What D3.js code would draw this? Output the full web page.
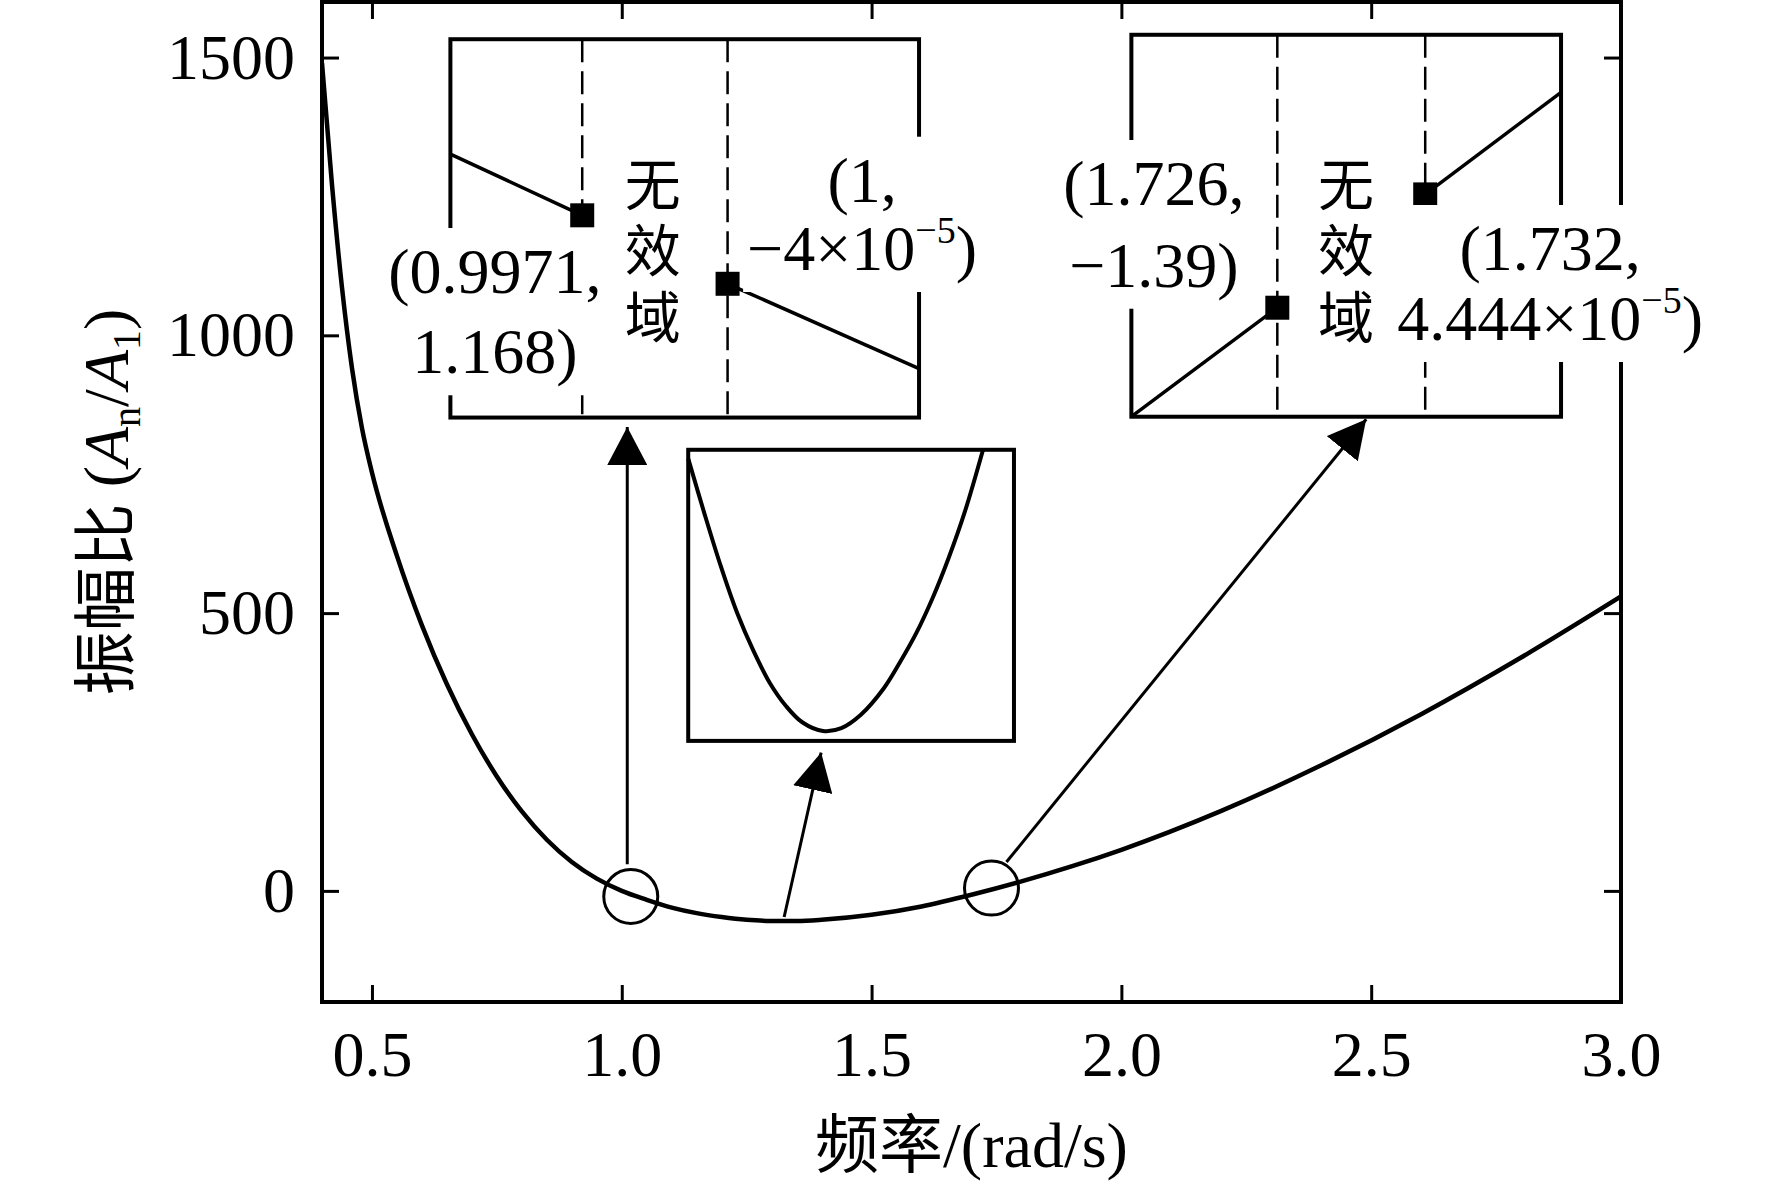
<!DOCTYPE html>
<html>
<head>
<meta charset="utf-8">
<script src="https://cdn.jsdelivr.net/npm/d3@7"></script>
<style>
body { margin: 0; background: #fff; }
text { font-family: "Liberation Serif", "Times New Roman", "Noto Sans CJK SC", serif; fill: #000; }
.cjk { font-family: "Noto Sans CJK SC", "Noto Sans CJK JP", sans-serif; }
</style>
</head>
<body>
<div id="chart"></div>
<script>
// main curve
var freq = [0.40, 0.42, 0.44, 0.46, 0.48, 0.50, 0.55, 0.60, 0.65, 0.70, 0.75, 0.80, 0.85, 0.90, 0.95,
	1.00, 1.05, 1.10, 1.15, 1.20, 1.25, 1.30, 1.35, 1.40, 1.50, 1.60, 1.70, 1.80, 1.90, 2.00,
	2.20, 2.40, 2.60, 2.80, 3.00];
var ampRatio = [1490, 1271, 1086, 941, 833, 753, 603, 478, 372, 282, 206, 143, 92, 52, 22,
	0, -16, -30, -40, -47, -52, -54, -54, -52, -43, -28, -7, 17, 44, 74,
	144, 226, 318, 420, 530];

var xTicks = [0.5, 1.0, 1.5, 2.0, 2.5, 3.0];
var yTicks = [0, 500, 1000, 1500];
var xTickLabels = ['0.5', '1.0', '1.5', '2.0', '2.5', '3.0'];
var yTickLabels = ['0', '500', '1000', '1500'];

// inset 1: zoom on the first zero crossing
var inset1Freq = [0.99447, 0.9971, 1.0, 1.00382];
var inset1Amp = [2.213, 1.168, -0.00004, -1.447];
// inset 2: zoom on the second zero crossing
var inset2Freq = [1.72008, 1.726, 1.732, 1.73751];
var inset2Amp = [-2.727, -1.39, 0.00004444, 1.252];
// inset 3: zoom on the minimum
var inset3Freq = [1.100, 1.1225, 1.145, 1.1675, 1.190, 1.2125, 1.235, 1.2575, 1.2863,
	1.3115, 1.3385, 1.370, 1.3925, 1.415, 1.4375, 1.460, 1.4825, 1.50725];
var inset3Amp = [-30.75, -35.5, -40.0, -44.0, -47.25, -50.0, -52.0, -53.4, -54.15,
	-53.9, -52.75, -50.5, -48.25, -45.75, -42.75, -39.25, -35.25, -30.0];

// circled spots on the main curve
var circleFreq = [1.018, 1.74];
var circleAmp = [-10, 5];

var W = 1772, H = 1186;
var x = d3.scaleLinear().domain([0.4, 3.0]).range([322, 1621]);
var y = d3.scaleLinear().domain([-200, 1600]).range([1002, 2]);

var svg = d3.select('#chart').append('svg')
	.attr('width', W)
	.attr('height', H)
	.style('background', '#fff');

svg.append('defs').append('clipPath').attr('id', 'plotClip')
	.append('rect')
	.attr('x', x(0.4)).attr('y', y(1600))
	.attr('width', x(3.0) - x(0.4)).attr('height', y(-200) - y(1600));

var arrowHead = svg.select('defs').append('marker')
	.attr('id', 'arrow')
	.attr('markerUnits', 'userSpaceOnUse')
	.attr('markerWidth', 40)
	.attr('markerHeight', 40)
	.attr('refX', 38)
	.attr('refY', 20)
	.attr('orient', 'auto');
arrowHead.append('path').attr('d', 'M0,0 L38,20 L0,40 Z').attr('fill', '#000');

// axes: ticks point inwards, mirrored on top and right
function styleAxis(g) {
	g.select('.domain').remove();
	g.selectAll('line').attr('stroke', '#000').attr('stroke-width', 3);
	g.selectAll('text').attr('font-family', '"Liberation Serif", "Times New Roman", serif').attr('font-size', 64).attr('fill', '#000');
}

svg.append('g').attr('transform', 'translate(' + x(0.4) + ',0)')
	.call(d3.axisLeft(y).tickValues(yTicks).tickSizeInner(-17).tickSizeOuter(0).tickPadding(27)
		.tickFormat(function(d, i) { return yTickLabels[i]; }))
	.call(styleAxis);
svg.append('g').attr('transform', 'translate(' + x(3.0) + ',0)')
	.call(d3.axisRight(y).tickValues(yTicks).tickSizeInner(-17).tickSizeOuter(0).tickFormat(''))
	.call(styleAxis);
svg.append('g').attr('transform', 'translate(0,' + y(-200) + ')')
	.call(d3.axisBottom(x).tickValues(xTicks).tickSizeInner(-17).tickSizeOuter(0).tickPadding(29)
		.tickFormat(function(d, i) { return xTickLabels[i]; }))
	.call(styleAxis);
svg.append('g').attr('transform', 'translate(0,' + y(1600) + ')')
	.call(d3.axisTop(x).tickValues(xTicks).tickSizeInner(-17).tickSizeOuter(0).tickFormat(''))
	.call(styleAxis);

svg.append('rect')
	.attr('x', x(0.4)).attr('y', y(1600))
	.attr('width', x(3.0) - x(0.4)).attr('height', y(-200) - y(1600))
	.attr('fill', 'none').attr('stroke', '#000').attr('stroke-width', 4);

// axis titles
svg.append('text')
	.attr('x', (x(0.4) + x(3.0)) / 2).attr('y', 1167)
	.attr('text-anchor', 'middle').attr('font-size', 64)
	.text('频率/(rad/s)');

var yTitle = svg.append('text')
	.attr('transform', 'translate(128,' + (y(-200) + y(1600)) / 2 + ') rotate(-90)')
	.attr('text-anchor', 'middle').attr('font-size', 64);
yTitle.append('tspan').text('振幅比 (');
yTitle.append('tspan').attr('font-style', 'italic').text('A');
yTitle.append('tspan').attr('font-size', 40).attr('dy', 12).text('n');
yTitle.append('tspan').attr('dy', -12).text('/');
yTitle.append('tspan').attr('font-style', 'italic').text('A');
yTitle.append('tspan').attr('font-size', 40).attr('dy', 12).text('1');
yTitle.append('tspan').attr('dy', -12).text(')');

// main curve
var mainData = freq.map(function(f, i) { return [f, ampRatio[i]]; });
svg.append('path')
	.datum(mainData)
	.attr('clip-path', 'url(#plotClip)')
	.attr('fill', 'none').attr('stroke', '#000').attr('stroke-width', 4.5)
	.attr('d', d3.line().x(function(d) { return x(d[0]); }).y(function(d) { return y(d[1]); }).curve(d3.curveMonotoneX));

// circles around zero crossings
svg.selectAll('.spot').data(circleFreq).enter().append('circle')
	.attr('class', 'spot')
	.attr('cx', function(d) { return x(d); })
	.attr('cy', function(d, i) { return y(circleAmp[i]); })
	.attr('r', 27)
	.attr('fill', 'none').attr('stroke', '#000').attr('stroke-width', 3);

// arrows from the curve up to the insets (main chart units)
var arrows = [
	[[1.011, 48], [1.011, 835]],
	[[1.325, -47], [1.399, 249]],
	[[1.770, 52], [2.490, 849]]
];
svg.selectAll('.arrow').data(arrows).enter().append('line')
	.attr('class', 'arrow')
	.attr('x1', function(d) { return x(d[0][0]); })
	.attr('y1', function(d) { return y(d[0][1]); })
	.attr('x2', function(d) { return x(d[1][0]); })
	.attr('y2', function(d) { return y(d[1][1]); })
	.attr('stroke', '#000').attr('stroke-width', 3)
	.attr('marker-end', 'url(#arrow)');

// inset boxes, placed in main chart units
function drawInset(place, fx, fy, opts) {
	var ix = d3.scaleLinear().domain(opts.xDomain).range([x(place[0]), x(place[1])]);
	var iy = d3.scaleLinear().domain(opts.yDomain).range([y(place[2]), y(place[3])]);
	var g = svg.append('g');
	g.append('rect')
		.attr('x', x(place[0])).attr('y', y(place[3]))
		.attr('width', x(place[1]) - x(place[0])).attr('height', y(place[2]) - y(place[3]))
		.attr('fill', '#fff').attr('stroke', '#000').attr('stroke-width', 4);
	var line = d3.line().x(function(d) { return ix(d[0]); }).y(function(d) { return iy(d[1]); });
	if (opts.dashed) {
		g.selectAll('.dash').data(opts.dashed).enter().append('line')
			.attr('x1', function(d) { return ix(d); }).attr('x2', function(d) { return ix(d); })
			.attr('y1', y(place[3])).attr('y2', y(place[2]))
			.attr('stroke', '#000').attr('stroke-width', 2.5).attr('stroke-dasharray', '23,9');
	}
	if (opts.curve) {
		var pts = fx.map(function(f, i) { return [f, fy[i]]; });
		g.append('path').datum(pts)
			.attr('fill', 'none').attr('stroke', '#000').attr('stroke-width', 4)
			.attr('d', line.curve(d3.curveCatmullRom.alpha(0.5)));
	} else {
		// two pieces, the invalid domain between them is left out
		var left = [[fx[0], fy[0]], [fx[1], fy[1]]];
		var right = [[fx[2], fy[2]], [fx[3], fy[3]]];
		g.selectAll('.seg').data([left, right]).enter().append('path')
			.attr('fill', 'none').attr('stroke', '#000').attr('stroke-width', 3.5)
			.attr('d', line);
		g.selectAll('.pt').data([[fx[1], fy[1]], [fx[2], fy[2]]]).enter().append('rect')
			.attr('x', function(d) { return ix(d[0]) - 12; })
			.attr('y', function(d) { return iy(d[1]) - 12; })
			.attr('width', 24).attr('height', 24)
			.attr('fill', '#000');
	}
	return g;
}

drawInset([0.657, 1.595, 852, 1533], inset1Freq, inset1Amp,
	{xDomain: [0.99447, 1.00382], yDomain: [-2.282, 4.172], dashed: [0.9971, 1.0]});
drawInset([2.02, 2.88, 853.5, 1541], inset2Freq, inset2Amp,
	{xDomain: [1.72008, 1.73751], yDomain: [-2.727, 1.958], dashed: [1.726, 1.732]});
drawInset([1.133, 1.785, 270, 794], inset3Freq, inset3Amp,
	{xDomain: [1.10, 1.55], yDomain: [-55, -30], curve: true});

// labels with a white patch behind them
function label(cx, lines) {
	var g = svg.append('g');
	lines.forEach(function(l) {
		var t = g.append('text')
			.attr('x', x(cx)).attr('y', y(l.y))
			.attr('text-anchor', 'middle').attr('font-size', 64);
		t.append('tspan').text(l.text);
		if (l.sup) {
			t.append('tspan').attr('font-size', 38).attr('dy', -27).text(l.sup);
			t.append('tspan').attr('dy', 27).text(')');
		}
	});
	var b = g.node().getBBox();
	g.insert('rect', ':first-child')
		.attr('x', b.x - 4).attr('y', b.y - 8)
		.attr('width', b.width + 8).attr('height', b.height + 16)
		.attr('fill', '#fff');
}

function cjkColumn(cx, ys) {
	var chars = ['无', '效', '域'];
	var g = svg.append('g');
	chars.forEach(function(c, i) {
		g.append('text').attr('class', 'cjk')
			.attr('x', x(cx)).attr('y', y(ys[i]))
			.attr('text-anchor', 'middle').attr('dominant-baseline', 'central')
			.attr('font-size', 56).text(c);
	});
}

var zoneRows = [1279.6, 1159.5, 1039.7];

label(0.746, [{text: '(0.9971,', y: 1076.2}, {text: '1.168)', y: 931.7}]);
label(1.481, [{text: '(1,', y: 1240.5}, {text: '\u22124\u00d710', sup: '\u22125', y: 1117.6}]);
cjkColumn(1.062, zoneRows);

label(2.065, [{text: '(1.726,', y: 1234.6}, {text: '\u22121.39)', y: 1087.5}]);
label(2.858, [{text: '(1.732,', y: 1117.6}, {text: '4.444\u00d710', sup: '\u22125', y: 991.6}]);
cjkColumn(2.4496, zoneRows);
</script>
</body>
</html>
